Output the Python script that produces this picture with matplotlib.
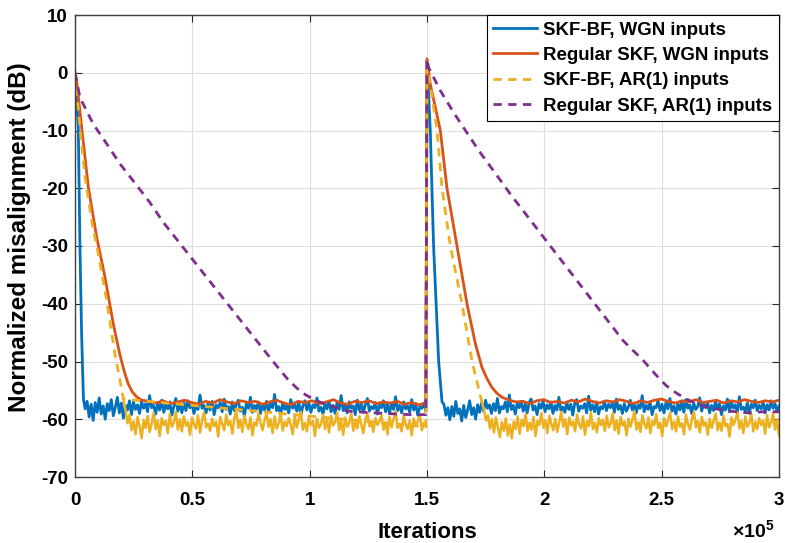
import matplotlib.pyplot as plt
import numpy as np

plt.rcParams['font.family'] = ['Liberation Sans', 'DejaVu Sans']
plt.rcParams['font.weight'] = 'bold'
plt.rcParams['axes.unicode_minus'] = False
plt.rcParams['mathtext.fontset'] = 'custom'
plt.rcParams['mathtext.rm'] = 'Liberation Sans'
plt.rcParams['mathtext.bf'] = 'Liberation Sans:bold'

# ---- data (iterations, dB) ----
labels = ['SKF-BF, WGN inputs', 'Regular SKF, WGN inputs',
          'SKF-BF, AR(1) inputs', 'Regular SKF, AR(1) inputs']

# SKF-BF, WGN
blue_drop1_x = [0, 1400, 2100, 2800, 3600]
blue_drop1_y = [0, -9.5, -30, -45, -56.5]
blue_noise1 = [
    -58.2, -56.9, -59.6, -57.4, -60.2, -57.1, -58.8, -56.3, -59.1, -57.7,
    -60.0, -57.3, -58.5, -56.6, -59.4, -57.9, -56.2, -58.9, -57.2, -59.8,
    -57.6, -58.4, -56.8, -59.2, -57.0, -58.3, -57.5, -59.0, -56.9, -58.1,
    -57.3, -58.7, -55.9, -58.0, -57.6, -59.1, -57.2, -58.4, -56.7, -58.8,
    -57.5, -58.2, -57.0, -59.3, -57.8, -56.4, -58.6, -57.3, -58.9, -57.1,
    -58.5, -56.8, -58.0, -57.4, -59.0, -57.7, -58.3, -55.8, -58.1, -57.6,
    -58.9, -57.2, -58.4, -56.9, -59.2, -57.5, -58.0, -57.1, -58.7, -56.5,
    -58.3, -57.8, -59.1, -57.0, -58.5, -57.4, -56.7, -58.6, -57.9, -59.4,
    -57.3, -58.1, -56.2, -58.8, -57.6, -58.2, -57.0, -59.0, -57.5, -58.4,
    -56.9, -58.7, -57.3, -58.0, -55.7, -58.5, -57.8, -59.2, -57.1, -58.3,
    -57.6, -58.9, -56.6, -58.1, -57.4, -58.6, -57.0, -59.3, -57.7, -56.8,
    -58.4, -57.2, -58.8, -57.5, -58.0, -56.3, -58.6, -57.9, -59.1, -57.3,
    -58.2, -56.9, -58.7, -57.6, -59.0, -57.1, -58.3, -55.9, -58.5, -57.4,
    -58.9, -57.0, -58.1, -57.7, -59.2, -56.7, -58.4, -57.3, -58.8, -57.5,
    -56.4, -58.6, -57.8, -58.2, -57.1, -59.1, -57.5, -58.0, -56.8, -58.7,
    -57.4, -59.0, -57.2, -58.3, -56.1, -58.5, -57.6, -58.9, -57.0, -58.2,
    -57.7, -58.8, -56.6, -58.4, -57.3, -59.3, -57.9, -58.1, -57.2, -58.6]
blue_drop2_x = [150000, 151400, 152800, 154970, 156400]
blue_drop2_y = [2.2, -10, -30, -50, -57]
blue_noise2 = [
    -57.4, -59.3, -58.0, -60.1, -57.8, -59.5, -56.9, -59.0, -58.2, -60.3,
    -57.6, -59.7, -58.4, -56.8, -59.2, -58.0, -60.0, -57.5, -58.8, -57.2,
    -58.6, -56.7, -58.1, -57.5, -59.0, -57.3, -58.5, -56.4, -58.9, -57.8,
    -58.2, -57.0, -58.7, -55.8, -58.3, -57.6, -59.1, -57.2, -58.0, -56.9,
    -58.6, -57.4, -58.9, -57.1, -56.5, -58.4, -57.7, -59.2, -57.3, -58.1,
    -56.8, -58.7, -57.5, -58.2, -57.0, -59.0, -57.6, -58.4, -56.2, -58.5,
    -57.9, -58.8, -57.1, -58.3, -57.4, -59.3, -57.2, -56.6, -58.6, -57.7,
    -58.1, -57.3, -58.9, -56.0, -58.4, -57.5, -58.7, -57.0, -59.1, -57.8,
    -58.2, -56.9, -58.5, -57.4, -58.0, -57.1, -58.8, -56.5, -58.3, -57.6,
    -59.0, -57.3, -58.6, -57.9, -56.7, -58.4, -57.2, -58.9, -57.5, -58.1,
    -55.9, -58.7, -57.6, -58.3, -57.0, -59.2, -57.8, -58.0, -56.8, -58.5,
    -57.4, -58.9, -57.1, -58.2, -56.4, -58.6, -57.7, -59.1, -57.3, -58.4,
    -57.0, -58.8, -56.6, -58.1, -57.5, -59.0, -57.2, -58.3, -57.8, -56.3,
    -58.6, -57.4, -58.0, -57.1, -58.9, -57.6, -58.5, -56.9, -58.2, -57.3,
    -59.2, -57.7, -58.4, -56.5, -58.7, -57.0, -58.1, -57.5, -58.8, -56.1,
    -58.3, -57.9, -58.6, -57.2, -59.0, -57.4, -58.0, -56.7, -58.5, -57.6,
    -58.2, -57.1, -58.9, -57.5, -58.4, -56.8, -58.1, -57.3, -58.6, -57.7]

# Regular SKF, WGN
orange_drop1_x = [0, 720, 2850, 5680, 9240, 12780, 16320, 19000, 20900, 22600,
                  24300, 26200, 28400]
orange_drop1_y = [0, -1.4, -9.5, -19.8, -28.5, -35.4, -43.5, -48.6, -51.6, -53.8,
                  -55.2, -56.1, -56.7]
orange_flat1 = [-56.9, -57.2, -56.8, -57.3, -57.0, -56.7, -57.1, -57.4, -56.9, -57.2,
                -56.6, -57.0, -57.3, -56.8, -57.1, -56.9, -57.4, -57.0, -56.7, -57.2,
                -57.5, -56.9, -57.1, -56.8, -57.3, -57.0, -56.6, -57.2, -57.4, -56.9,
                -57.1, -56.8, -57.3, -57.0, -57.2, -56.9, -57.4, -57.1, -57.5, -57.2]
orange_drop2_x = [150000, 151400, 155680, 158520, 162780, 167040, 170600, 173400,
                  175600, 177700, 179800, 182000]
orange_drop2_y = [2.4, -1.95, -10, -20, -30, -40, -46.9, -51.0, -53.0, -54.5,
                  -55.5, -56.2]
orange_flat2 = [-56.7, -57.0, -56.9, -57.3, -56.8, -56.6, -57.1, -56.9, -57.2, -56.7,
                -57.0, -56.5, -56.9, -57.2, -56.8, -57.0, -56.6, -56.9, -57.3, -56.8,
                -57.1, -56.7, -56.5, -56.9, -57.2, -56.8, -57.0, -56.6, -57.1, -56.9,
                -56.7, -57.2, -56.8, -57.0, -56.6, -56.9, -57.1, -56.8, -57.0, -56.7]

# SKF-BF, AR(1)
yellow_drop1_x = [0, 2130, 4260, 7100, 9940, 13500, 17000, 19200, 20600]
yellow_drop1_y = [0, -9.5, -18.1, -25.6, -31.4, -39.4, -48.7, -53.3, -56.5]
yellow_noise1 = [
    -58.3, -60.7, -59.2, -61.9, -60.4, -62.6, -59.6, -61.2, -63.3, -60.1,
    -61.5, -59.4, -62.2, -60.8, -58.9, -61.7, -60.2, -62.9, -59.8, -61.0,
    -60.3, -62.4, -59.1, -61.3, -60.6, -58.7, -61.8, -60.0, -62.1, -59.5,
    -61.1, -60.5, -62.7, -59.7, -60.9, -61.6, -59.3, -62.3, -60.2, -58.8,
    -61.4, -60.7, -62.0, -59.9, -61.2, -60.4, -63.0, -59.6, -60.8, -61.9,
    -59.2, -61.0, -60.3, -62.5, -59.8, -58.6, -61.5, -60.1, -62.2, -59.4,
    -60.9, -61.7, -59.7, -62.8, -60.5, -61.1, -59.0, -60.6, -61.9, -60.2,
    -58.9, -61.3, -60.0, -62.4, -59.5, -61.6, -60.7, -59.1, -62.0, -60.4,
    -61.2, -59.8, -60.9, -62.6, -59.3, -61.4, -60.1, -58.7, -61.8, -60.6,
    -62.1, -59.6, -61.0, -60.3, -62.9, -59.9, -61.5, -60.8, -59.2, -61.7,
    -60.0, -62.3, -59.4, -61.1, -60.5, -58.8, -61.9, -60.2, -62.7, -59.7,
    -61.3, -60.6, -59.0, -62.0, -60.4, -61.6, -59.5, -60.9, -62.4, -60.1,
    -58.9, -61.2, -60.7, -62.2, -59.8, -61.0, -60.3, -59.3, -61.8, -60.5,
    -62.6, -59.6, -61.4, -60.0, -58.6, -61.5, -60.8, -62.1, -59.4, -60.9,
    -61.7, -60.2, -62.8, -59.9, -61.1, -60.4, -59.1, -61.9, -60.6, -61.3]
yellow_drop2_x = [150000, 151400, 154260, 156400, 159940, 164900, 169200, 173400]
yellow_drop2_y = [2.2, -2.0, -10, -20, -30, -40, -50, -57.0]
yellow_noise2 = [
    -58.5, -60.2, -59.3, -61.6, -60.0, -62.3, -59.7, -61.4, -63.1, -60.5,
    -62.0, -59.8, -62.8, -60.9, -63.3, -60.4, -61.7, -59.5, -62.5, -60.1,
    -61.2, -59.1, -62.0, -60.6, -61.8, -59.6, -62.9, -60.3, -61.0, -58.9,
    -61.5, -60.2, -62.4, -59.4, -60.8, -61.9, -59.9, -62.2, -60.5, -58.7,
    -61.3, -60.0, -62.6, -59.7, -61.1, -60.4, -62.1, -59.2, -60.9, -61.6,
    -59.5, -62.7, -60.3, -61.2, -58.8, -61.7, -60.6, -62.3, -59.8, -61.0,
    -60.1, -62.0, -59.4, -61.4, -60.7, -59.0, -61.9, -60.2, -62.5, -59.6,
    -61.1, -60.4, -62.8, -59.9, -61.3, -60.0, -58.6, -61.8, -60.5, -62.2,
    -59.3, -60.8, -61.6, -59.7, -62.4, -60.3, -61.0, -59.1, -61.5, -60.6,
    -62.9, -59.8, -61.2, -60.1, -58.9, -61.7, -60.4, -62.1, -59.5, -61.3,
    -60.7, -62.6, -59.2, -60.9, -61.8, -60.0, -58.7, -61.4, -60.3, -62.3,
    -59.6, -61.1, -60.5, -62.7, -59.9, -61.5, -60.2, -59.0, -61.9, -60.6,
    -62.0, -59.4, -61.2, -60.8, -63.0, -59.7, -61.0, -60.1, -58.8, -61.6,
    -60.3, -62.4, -59.5, -61.3, -60.7, -59.1, -62.1, -60.4, -61.7, -59.8,
    -61.0, -60.2, -62.5, -59.3, -61.4, -60.6, -58.9, -61.8, -60.0, -62.8]

# Regular SKF, AR(1)
purple_x = [0, 2130, 7800, 13500, 19200, 26300, 31960, 37630, 77400, 85000, 90500,
            94500, 98000, 101500, 106500, 111600, 116300, 123600, 132000, 142700, 149500,
            150000, 150680, 155680, 161360, 166400, 172100, 178400, 185500, 233600,
            242100, 247500, 252000, 256400, 260500, 265000, 270000, 279000, 287000,
            293000, 300000]
purple_y = [0, -4.3, -8.9, -12.3, -15.8, -19.5, -22.5, -25.9, -46.4, -50.3, -53.0,
            -54.6, -55.7, -56.5, -57.4, -58.0, -58.6, -58.8, -59.0, -59.2, -59.2,
            2.4, 0.9, -3.1, -6.9, -10.0, -13.5, -17.0, -21.0, -46.4,
            -49.8, -52.3, -54.2, -55.5, -56.5, -57.3, -58.0, -58.6, -58.9,
            -58.7, -58.7]


def join(*parts):
    xs, ys = [], []
    for px, py in parts:
        xs.extend(px)
        ys.extend(py)
    return np.array(xs), np.array(ys)


def spread(vals, start, stop):
    return np.linspace(start, stop, len(vals)), vals


blue_x, blue_y = join((blue_drop1_x, blue_drop1_y), spread(blue_noise1, 4300, 149500),
                      (blue_drop2_x, blue_drop2_y), spread(blue_noise2, 157200, 300000))
orange_x, orange_y = join((orange_drop1_x, orange_drop1_y), spread(orange_flat1, 31500, 149500),
                          (orange_drop2_x, orange_drop2_y), spread(orange_flat2, 185000, 300000))
# yellow: steep parts dashed, dense noisy floor drawn as one connected trace
yellow_fast_x, yellow_fast_y = join((yellow_drop1_x, yellow_drop1_y),
                                    ([149500, 150000], [yellow_noise1[-1], yellow_drop2_y[0]]),
                                    (yellow_drop2_x, yellow_drop2_y))
yellow_floor1_x, yellow_floor1_y = join(([yellow_drop1_x[-1]], [yellow_drop1_y[-1]]),
                                        spread(yellow_noise1, 21500, 149500))
yellow_floor2_x, yellow_floor2_y = join(([yellow_drop2_x[-1]], [yellow_drop2_y[-1]]),
                                        spread(yellow_noise2, 174300, 300000))

# ---- figure ----
fig = plt.figure(figsize=(7.85, 5.43), dpi=100)
ax = fig.add_axes([75 / 785, 66 / 543, 704 / 785, 462 / 543])

lw = 2.0
dash = (0, (3, 2.3))
c_blue, c_orange, c_yellow, c_purple = '#0072BD', '#D95319', '#EDB120', '#7E2F8E'
ax.plot(blue_x, blue_y, color=c_blue, lw=lw, label=labels[0])
ax.plot(orange_x, orange_y, color=c_orange, lw=lw, label=labels[1])
ax.plot(yellow_fast_x, yellow_fast_y, color=c_yellow, lw=lw, ls=dash, label=labels[2])
ax.plot(yellow_floor1_x, yellow_floor1_y, color=c_yellow, lw=lw * 0.9)
ax.plot(yellow_floor2_x, yellow_floor2_y, color=c_yellow, lw=lw * 0.9)
ax.plot(purple_x, purple_y, color=c_purple, lw=lw, ls=dash, label=labels[3])

ax.set_xlim(0, 300000)
ax.set_ylim(-70, 10)
ax.set_xticks(np.arange(0, 300001, 50000))
ax.set_xticklabels(['0', '0.5', '1', '1.5', '2', '2.5', '3'])
ax.set_yticks(np.arange(-70, 11, 10))
ax.tick_params(direction='in', length=5, width=0.8, top=True, right=True,
               labelsize=13.5, colors='#262626', labelcolor='black')
ax.tick_params(axis='x', pad=11)
ax.tick_params(axis='y', pad=5)
ax.grid(True, color='#dedede', lw=0.8)
ax.set_axisbelow(True)
for s in ax.spines.values():
    s.set_color('#404040')
    s.set_linewidth(1.0)

ax.set_xlabel('Iterations', fontsize=16, fontweight='bold')
ax.xaxis.set_label_coords(0.5, -0.132)
ax.xaxis.label.set_va('baseline')
ax.set_ylabel('Normalized misalignment (dB)', fontsize=17.5, fontweight='bold')
ax.yaxis.set_label_coords(-0.062, 0.52)
ax.text(0.9943, -0.132, r'$\times$10$^{\mathbf{5}}$', transform=ax.transAxes,
        ha='right', va='baseline', fontsize=14, fontweight='bold')

leg = ax.legend(loc='upper right', borderaxespad=0, fancybox=False, framealpha=1,
                edgecolor='black', fontsize=13.4, handlelength=2.37, handletextpad=0.32,
                labelspacing=0.45, borderpad=0.35)
leg.get_frame().set_linewidth(0.8)

fig.savefig('out.png', dpi=100)
